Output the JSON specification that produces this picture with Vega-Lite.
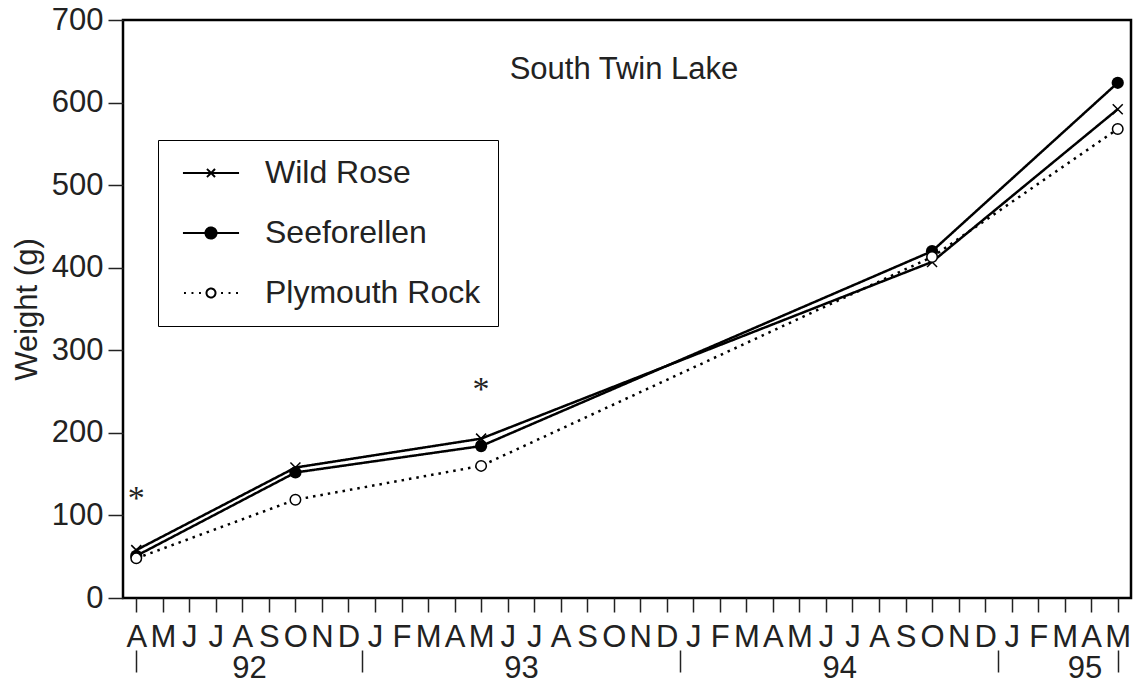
{
  "$schema": "https://vega.github.io/schema/vega-lite/v6.json",
  "width": 1008,
  "height": 578,
  "autosize": {"type": "none"},
  "padding": {"left": 123, "top": 20, "right": 7, "bottom": 86},
  "background": "white",
  "config": {
    "font": "Liberation Sans",
    "view": {"stroke": "black", "strokeWidth": 2.5},
    "axis": {
      "labelFont": "Liberation Sans",
      "labelFontSize": 31,
      "labelColor": "#222",
      "titleFont": "Liberation Sans",
      "titleFontSize": 31,
      "titleFontWeight": "normal",
      "titleColor": "#222",
      "tickColor": "#222",
      "tickWidth": 1.5,
      "grid": false,
      "domain": false,
      "labelFlush": false,
      "labelOverlap": false
    }
  },
  "title": {
    "text": "South Twin Lake",
    "fontSize": 31,
    "fontWeight": "normal",
    "color": "#222",
    "font": "Liberation Sans",
    "baseline": "alphabetic",
    "offset": -62,
    "dy": 44,
    "anchor": "middle",
    "dx": -3
  },
  "datasets": {
    "weights": [
      {"series": "Wild Rose", "month": 0, "weight": 58},
      {"series": "Wild Rose", "month": 6, "weight": 158},
      {"series": "Wild Rose", "month": 13, "weight": 193},
      {"series": "Wild Rose", "month": 30, "weight": 407},
      {"series": "Wild Rose", "month": 37, "weight": 592},
      {"series": "Seeforellen", "month": 0, "weight": 51},
      {"series": "Seeforellen", "month": 6, "weight": 152},
      {"series": "Seeforellen", "month": 13, "weight": 184},
      {"series": "Seeforellen", "month": 30, "weight": 420},
      {"series": "Seeforellen", "month": 37, "weight": 624},
      {"series": "Plymouth Rock", "month": 0, "weight": 48},
      {"series": "Plymouth Rock", "month": 6, "weight": 119},
      {"series": "Plymouth Rock", "month": 13, "weight": 160},
      {"series": "Plymouth Rock", "month": 30, "weight": 413},
      {"series": "Plymouth Rock", "month": 37, "weight": 568}
    ],
    "signif": [
      {"month": 0, "weight": 129, "label": "*"},
      {"month": 13, "weight": 262, "label": "*"}
    ]
  },
  "layer": [
    {
      "data": {"name": "weights"},
      "encoding": {
        "x": {
          "field": "month",
          "type": "quantitative",
          "scale": {"domain": [-0.5, 37.5], "nice": false, "zero": false},
          "axis": {
            "title": null,
            "values": [0,1,2,3,4,5,6,7,8,9,10,11,12,13,14,15,16,17,18,19,20,21,22,23,24,25,26,27,28,29,30,31,32,33,34,35,36,37],
            "tickCount": 100,
            "labelExpr": "['J','F','M','A','M','J','J','A','S','O','N','D'][(datum.value + 3) % 12]",
            "tickSize": 14,
            "labelPadding": 10
          }
        },
        "y": {
          "field": "weight",
          "type": "quantitative",
          "scale": {"domain": [0, 700], "nice": false},
          "axis": {
            "title": "Weight (g)",
            "values": [0, 100, 200, 300, 400, 500, 600, 700],
            "tickSize": 15,
            "labelPadding": 5,
            "titlePadding": 8
          }
        }
      },
      "layer": [
        {
          "transform": [{"filter": {"field": "series", "oneOf": ["Wild Rose", "Seeforellen"]}}],
          "mark": {"type": "line", "strokeWidth": 2.5, "color": "black"},
          "encoding": {
            "strokeDash": {
              "field": "series",
              "type": "nominal",
              "scale": {
                "domain": ["Wild Rose", "Seeforellen", "Plymouth Rock"],
                "range": [[1, 0], [1, 0], [1, 0]]
              },
              "legend": {
                "title": null,
                "orient": "none",
                "legendX": 35,
                "legendY": 120,
                "strokeColor": "black",
                "fillColor": "white",
                "padding": 17,
                "labelFont": "Liberation Sans",
                "labelFontSize": 32,
                "labelColor": "#222",
                "labelLimit": 400,
                "labelExpr": "datum.label + ' '",
                "symbolSize": 900,
                "symbolStrokeWidth": 2,
                "symbolStrokeColor": "black",
                "symbolOpacity": 1,
                "symbolOffset": 20,
                "labelOffset": 38,
                "rowPadding": 28,
                "symbolType": {"expr": "datum.value === 'Wild Rose' ? 'M-1.87,0L1.87,0M-0.27,-0.27L0.27,0.27M-0.27,0.27L0.27,-0.27' : datum.value === 'Seeforellen' ? 'M-1.87,0L1.87,0M0.37,0A0.37,0.37,0,1,1,-0.37,0A0.37,0.37,0,1,1,0.37,0Z' : 'M-1.8,0L-1.67,0M-1.3,0L-1.17,0M-0.8,0L-0.67,0M0.3,0A0.3,0.3,0,1,1,-0.3,0A0.3,0.3,0,1,1,0.3,0ZM0.67,0L0.8,0M1.17,0L1.3,0M1.67,0L1.8,0'"},
                "symbolFillColor": {"expr": "datum.value === 'Seeforellen' ? 'black' : datum.value === 'Plymouth Rock' ? 'white' : 'transparent'"}
              }
            }
          }
        },
        {
          "transform": [{"filter": {"field": "series", "equal": "Plymouth Rock"}}],
          "mark": {"type": "line", "strokeWidth": 2.5, "strokeDash": [2.5, 5], "color": "black"}
        },
        {
          "transform": [{"filter": {"field": "series", "equal": "Wild Rose"}}],
          "mark": {"type": "point", "shape": "M-1,-1L1,1M-1,1L1,-1", "color": "black", "strokeWidth": 1.5, "size": 100, "opacity": 1}
        },
        {
          "transform": [{"filter": {"field": "series", "equal": "Seeforellen"}}],
          "mark": {"type": "circle", "color": "black", "size": 150, "opacity": 1}
        },
        {
          "transform": [{"filter": {"field": "series", "equal": "Plymouth Rock"}}],
          "mark": {"type": "point", "shape": "circle", "filled": true, "fill": "white", "stroke": "black", "strokeWidth": 1.5, "size": 110, "opacity": 1}
        }
      ]
    },
    {
      "data": {"name": "signif"},
      "mark": {"type": "text", "font": "Liberation Serif", "fontSize": 34, "baseline": "alphabetic", "dy": 18, "color": "#222"},
      "encoding": {
        "x": {
          "field": "month",
          "type": "quantitative",
          "scale": {"domain": [-0.5, 37.5], "nice": false, "zero": false},
          "axis": {
            "orient": "bottom",
            "offset": 52,
            "title": null,
            "values": [0, 4.25, 8.5, 14.5, 20.5, 26.5, 32.5, 35.75, 37],
            "tickCount": 100,
            "labelExpr": "datum.value == 4.25 ? '92' : datum.value == 14.5 ? '93' : datum.value == 26.5 ? '94' : datum.value == 35.75 ? '95' : ''",
            "tickSize": 22,
            "tickOpacity": {
              "condition": {"test": "datum.value == 4.25 || datum.value == 14.5 || datum.value == 26.5 || datum.value == 35.75", "value": 0},
              "value": 1
            },
            "labelPadding": -19
          }
        },
        "y": {
          "field": "weight",
          "type": "quantitative",
          "axis": {"title": "Weight (g)"}
        },
        "text": {"field": "label"}
      }
    }
  ],
  "resolve": {"scale": {"x": "independent"}}
}
